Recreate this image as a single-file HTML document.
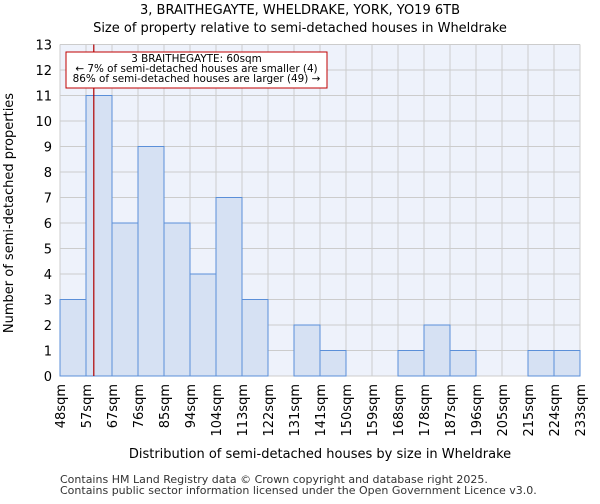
<!DOCTYPE html>
<html><head><meta charset="utf-8"><style>
body{margin:0;background:#fff;font-family:"DejaVu Sans","Liberation Sans",sans-serif}
</style></head><body>
<svg width="600" height="500" xmlns="http://www.w3.org/2000/svg" font-family="DejaVu Sans, Liberation Sans, sans-serif">
<text x="300" y="14" text-anchor="middle" font-size="13">3, BRAITHEGAYTE, WHELDRAKE, YORK, YO19 6TB</text>
<text x="300" y="32" text-anchor="middle" font-size="13">Size of property relative to semi-detached houses in Wheldrake</text>
<rect x="60" y="44.5" width="520" height="331.5" fill="#eef2fb"/>
<g id="grid"></g><g id="bars"></g><g id="axes"></g>
<text transform="translate(13,213) rotate(-90)" text-anchor="middle" font-size="13">Number of semi-detached properties</text>
<text x="320" y="458" text-anchor="middle" font-size="13">Distribution of semi-detached houses by size in Wheldrake</text>
<text x="60" y="483" font-size="11" fill="#333">Contains HM Land Registry data © Crown copyright and database right 2025.</text>
<text x="60" y="494" font-size="11" fill="#333">Contains public sector information licensed under the Open Government Licence v3.0.</text>
</svg>
<script>
const categories=["48sqm","57sqm","67sqm","76sqm","85sqm","94sqm","104sqm","113sqm","122sqm","131sqm","141sqm","150sqm","159sqm","168sqm","178sqm","187sqm","196sqm","205sqm","215sqm","224sqm","233sqm"];
const binEdges=[48,57,67,76,85,94,104,113,122,131,141,150,159,168,178,187,196,205,215,224,233];
const counts=[3,11,6,9,6,4,7,3,0,2,1,0,0,1,2,1,0,0,1,1];
const yTicks=[0,1,2,3,4,5,6,7,8,9,10,11,12,13];
const subjectSize=60;
const NS="http://www.w3.org/2000/svg";
const X0=60,X1=580,Y0=376,Y1=44.5,YMAX=13;
const bw=(X1-X0)/counts.length;
const xi=i=>X0+i*bw;
const y=v=>Y0-(v/YMAX)*(Y0-Y1);
function xv(v){let i=0;while(i<binEdges.length-2&&v>binEdges[i+1])i++;return xi(i)+(v-binEdges[i])/(binEdges[i+1]-binEdges[i])*bw;}
function mk(t,a,p){const e=document.createElementNS(NS,t);for(const k in a)e.setAttribute(k,a[k]);p.appendChild(e);return e;}
const g=document.getElementById('grid'),b=document.getElementById('bars'),ax=document.getElementById('axes');
yTicks.forEach(v=>{const l=mk('line',{x1:X0,x2:X1,y1:y(v),y2:y(v),stroke:'#cccccc'},g);


const t=mk('text',{x:X0-8,y:y(v)+5,'text-anchor':'end','font-size':13},ax);t.textContent=v;

});
categories.forEach((c,i)=>{const x=xi(i);const l=mk('line',{x1:x,x2:x,y1:Y1,y2:Y0,stroke:'#cccccc'},g);


const t=mk('text',{transform:`translate(${x+5},${Y0+8}) rotate(-90)`,'text-anchor':'end','font-size':13},ax);t.textContent=c;

});
counts.forEach((v,i)=>{if(v<=0)return;const r=mk('rect',{x:xi(i),y:y(v),width:bw,height:Y0-y(v),fill:'#d6e1f3',stroke:'#5b8fd8','stroke-width':1},b);

});
const sx=xv(subjectSize);
const ml=mk('line',{x1:sx,x2:sx,y1:Y1,y2:Y0,stroke:'#b00000','stroke-width':1.2},b);


const box=mk('rect',{x:66,y:52,width:261,height:36,fill:'#fff',stroke:'#c00000','stroke-width':1},b);


["3 BRAITHEGAYTE: 60sqm","← 7% of semi-detached houses are smaller (4)","86% of semi-detached houses are larger (49) →"].forEach((s,k)=>{const t=mk('text',{x:196.5,y:62+k*10,'text-anchor':'middle','font-size':10.4},b);t.textContent=s;

});
</script>
</body></html>
